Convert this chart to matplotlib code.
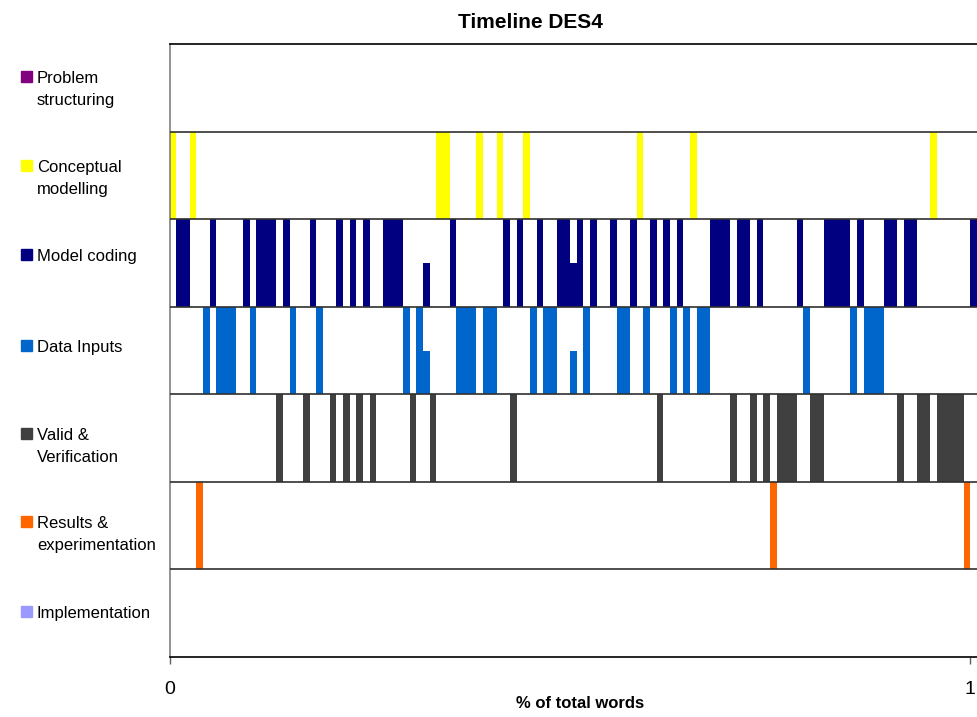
import matplotlib.pyplot as plt
from matplotlib.patches import Rectangle

plt.rcParams['font.family'] = ['Liberation Sans', 'DejaVu Sans']

# Coded text segments (index of each coded segment, out of n_segments)
n_segments = 120
categories = ['Problem\nstructuring', 'Conceptual\nmodelling', 'Model coding',
              'Data Inputs', 'Valid &\nVerification', 'Results &\nexperimentation',
              'Implementation']
colors = ['#800080', '#FFFF00', '#000080', '#0066CC', '#404040', '#FF6600', '#9999FF']

problem_structuring = []
conceptual_modelling = [0, 3, 40, 41, 46, 49, 53, 70, 78, 114]
model_coding = [1, 2, 6, 11, 13, 14, 15, 17, 21, 25, 27, 29, 32, 33, 34, 42, 50, 52,
                55, 58, 59, 61, 63, 66, 69, 72, 74, 76, 81, 82, 83, 85, 86, 88, 94,
                98, 99, 100, 101, 103, 107, 108, 110, 111, 120]
data_inputs = [5, 7, 8, 9, 12, 18, 22, 35, 37, 43, 44, 45, 47, 48, 54, 56, 57, 62,
               67, 68, 71, 75, 77, 79, 80, 95, 102, 104, 105, 106]
valid_verification = [16, 20, 24, 26, 28, 30, 36, 39, 51, 73, 84, 87, 89, 91, 92, 93,
                      96, 97, 109, 112, 113, 115, 116, 117, 118]
results_experimentation = [4, 90, 119]
implementation = []

# segments shared half-and-half between model coding and data inputs
shared_segments = [38, 60]
shared_share = 0.5

full_codes = [problem_structuring, conceptual_modelling, model_coding, data_inputs,
              valid_verification, results_experimentation, implementation]
half_codes = [[], [], shared_segments, shared_segments, [], [], []]

fig = plt.figure(figsize=(9.77, 7.17), dpi=100)
ax = fig.add_axes([169.5 / 977, 60 / 717, 1 - 169.5 / 977, 613 / 717])

n_rows = len(categories)
for i, (cat, col, segs, halves) in enumerate(zip(categories, colors, full_codes, half_codes)):
    row = n_rows - 1 - i
    if segs:
        ax.bar([s / n_segments for s in segs], 1, width=1 / n_segments, bottom=row,
               align='edge', color=col, linewidth=0)
    if halves:
        ax.bar([s / n_segments for s in halves], shared_share, width=1 / n_segments,
               bottom=row, align='edge', color=col, linewidth=0)

ax.set_xlim(0, (n_segments + 1) / n_segments)
ax.set_ylim(0, n_rows)
ax.set_yticks([])
for r in range(1, n_rows):
    ax.axhline(r, color='#303030', linewidth=1.2, zorder=3)

ax.set_xticks([0, 1])
ax.set_xticklabels(['0', '1'], fontsize=14)
ax.tick_params(axis='x', length=5, width=1, pad=12, color='#606060')
ax.spines['right'].set_visible(False)
ax.spines['left'].set_color('#808080')
ax.spines['top'].set_color('black')
ax.spines['bottom'].set_color('black')
for s in ['left', 'top', 'bottom']:
    ax.spines[s].set_linewidth(1.2)

# legend on the left, one entry beside each row
legend_y = [71, 160, 249, 340, 428, 516, 606]
for cat, col, y in zip(categories, colors, legend_y):
    fig.patches.append(Rectangle((21 / 977, 1 - (y + 11) / 717), 11 / 977, 11 / 717,
                                 transform=fig.transFigure, color=col))
    fig.text(37 / 977, 1 - y / 717, cat, fontsize=12, va='top', ha='left',
             linespacing=1.6)

fig.text(530 / 977, 1 - 22 / 717, 'Timeline DES4', fontsize=15, fontweight='bold',
         ha='center', va='center')
fig.text(580 / 977, 1 - 703 / 717, '% of total words', fontsize=12, fontweight='bold',
         ha='center', va='center')

plt.savefig('out.png', dpi=100)
